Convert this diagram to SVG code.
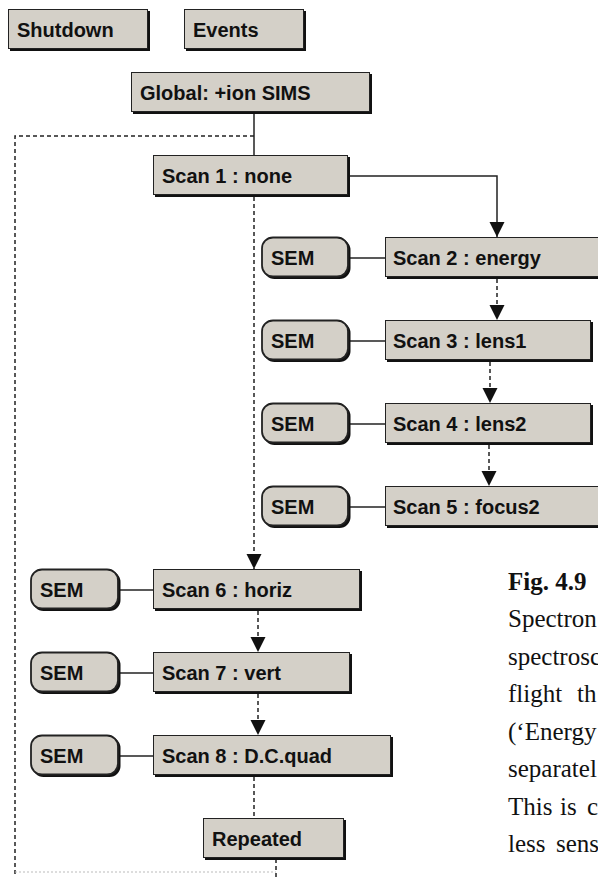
<svg xmlns="http://www.w3.org/2000/svg" width="598" height="877" viewBox="0 0 598 877">
<style>
.sh{fill:#111}
.bx{fill:#d4d0c8;stroke:#222;stroke-width:1}
.pl{fill:#d4d0c8;stroke:#222;stroke-width:1.8}
.t{font-family:"Liberation Sans",Arial,sans-serif;font-weight:bold;font-size:20px;fill:#111}
.cap{font-family:"Liberation Serif","Times New Roman",serif;font-size:25px;fill:#111}
.ln{fill:none;stroke:#222;stroke-width:1.5}
.ds{fill:none;stroke:#222;stroke-width:1.5;stroke-dasharray:4 3}
.lt{fill:none;stroke:#bbb;stroke-width:1.2;stroke-dasharray:2 2}
</style>
<defs>
<marker id="ah" markerUnits="userSpaceOnUse" markerWidth="16" markerHeight="16" viewBox="0 0 16 16" refX="15" refY="8" orient="auto">
<path d="M0,0.5 L15,8 L0,15.5 Z" fill="#111" stroke="none"/>
</marker>
</defs>
<rect width="598" height="877" fill="#fff"/>

<g id="connectors">
<path class="ln" d="M254,113 V155"/>
<path class="ds" d="M254,136 H15 V877"/>
<path class="lt" d="M15,872 H276"/>
<path class="ds" d="M276,859 V877"/>
<path class="ln" d="M350,176 H497 V237" marker-end="url(#ah)"/>
<path class="ds" d="M254,197 V569" marker-end="url(#ah)"/>
<path class="ds" d="M497,279 V320" marker-end="url(#ah)"/>
<path class="ds" d="M490,362 V403" marker-end="url(#ah)"/>
<path class="ds" d="M489,445 V486" marker-end="url(#ah)"/>
<path class="ds" d="M258,611 V652" marker-end="url(#ah)"/>
<path class="ds" d="M258,694 V735" marker-end="url(#ah)"/>
<path class="ds" d="M254,777 V818"/>
<path class="ln" d="M350,258 H385"/>
<path class="ln" d="M350,341 H385"/>
<path class="ln" d="M350,424 H385"/>
<path class="ln" d="M350,507 H385"/>
<path class="ln" d="M120,590 H153"/>
<path class="ln" d="M120,673 H153"/>
<path class="ln" d="M120,756 H153"/>
</g>

<g id="shutdown"><rect class="sh" x="10" y="11" width="140" height="40"/><rect class="bx" x="8.5" y="9.5" width="139" height="39"/><text class="t" x="17" y="37">Shutdown</text></g>
<g id="events"><rect class="sh" x="186" y="11" width="120" height="40"/><rect class="bx" x="184.5" y="9.5" width="119" height="39"/><text class="t" x="193" y="37">Events</text></g>
<g id="global"><rect class="sh" x="133" y="74" width="239" height="40"/><rect class="bx" x="131.5" y="72.5" width="238" height="39"/><text class="t" x="140" y="100">Global: +ion SIMS</text></g>
<g id="scan1"><rect class="sh" x="155" y="157" width="195" height="40"/><rect class="bx" x="153.5" y="155.5" width="194" height="39"/><text class="t" x="162" y="183">Scan 1 : none</text></g>

<g id="sem2"><rect class="sh" x="263.5" y="239" width="87" height="40" rx="11"/><rect class="pl" x="262" y="237.5" width="86" height="39" rx="11"/><text class="t" x="271" y="265">SEM</text></g>
<g id="scan2"><rect class="sh" x="387" y="239" width="220" height="40"/><rect class="bx" x="385.5" y="237.5" width="220" height="39"/><text class="t" x="393" y="265">Scan 2 : energy</text></g>
<g id="sem3"><rect class="sh" x="263.5" y="322" width="87" height="40" rx="11"/><rect class="pl" x="262" y="320.5" width="86" height="39" rx="11"/><text class="t" x="271" y="348">SEM</text></g>
<g id="scan3"><rect class="sh" x="387" y="322" width="206" height="40"/><rect class="bx" x="385.5" y="320.5" width="205" height="39"/><text class="t" x="393" y="348">Scan 3 : lens1</text></g>
<g id="sem4"><rect class="sh" x="263.5" y="405" width="87" height="40" rx="11"/><rect class="pl" x="262" y="403.5" width="86" height="39" rx="11"/><text class="t" x="271" y="431">SEM</text></g>
<g id="scan4"><rect class="sh" x="387" y="405" width="206" height="40"/><rect class="bx" x="385.5" y="403.5" width="205" height="39"/><text class="t" x="393" y="431">Scan 4 : lens2</text></g>
<g id="sem5"><rect class="sh" x="263.5" y="488" width="87" height="40" rx="11"/><rect class="pl" x="262" y="486.5" width="86" height="39" rx="11"/><text class="t" x="271" y="514">SEM</text></g>
<g id="scan5"><rect class="sh" x="387" y="488" width="220" height="40"/><rect class="bx" x="385.5" y="486.5" width="220" height="39"/><text class="t" x="393" y="514">Scan 5 : focus2</text></g>

<g id="sem6"><rect class="sh" x="32.5" y="571" width="88" height="40" rx="11"/><rect class="pl" x="31" y="569.5" width="87" height="39" rx="11"/><text class="t" x="40" y="597">SEM</text></g>
<g id="scan6"><rect class="sh" x="155" y="571" width="207" height="40"/><rect class="bx" x="153.5" y="569.5" width="206" height="39"/><text class="t" x="162" y="597">Scan 6 : horiz</text></g>
<g id="sem7"><rect class="sh" x="32.5" y="654" width="88" height="40" rx="11"/><rect class="pl" x="31" y="652.5" width="87" height="39" rx="11"/><text class="t" x="40" y="680">SEM</text></g>
<g id="scan7"><rect class="sh" x="155" y="654" width="197" height="40"/><rect class="bx" x="153.5" y="652.5" width="196" height="39"/><text class="t" x="162" y="680">Scan 7 : vert</text></g>
<g id="sem8"><rect class="sh" x="32.5" y="737" width="88" height="40" rx="11"/><rect class="pl" x="31" y="735.5" width="87" height="39" rx="11"/><text class="t" x="40" y="763">SEM</text></g>
<g id="scan8"><rect class="sh" x="155" y="737" width="238" height="40"/><rect class="bx" x="153.5" y="735.5" width="237" height="39"/><text class="t" x="162" y="763">Scan 8 : D.C.quad</text></g>
<g id="repeated"><rect class="sh" x="205" y="820" width="141" height="40"/><rect class="bx" x="203.5" y="818.5" width="140" height="39"/><text class="t" x="212" y="846">Repeated</text></g>

<g id="caption">
<text class="cap" x="508" y="590" font-weight="bold">Fig. 4.9</text>
<text class="cap" x="508" y="627">Spectron</text>
<text class="cap" x="508" y="665">spectrosc</text>
<text class="cap" x="508" y="702"><tspan>flight</tspan><tspan x="577">th</tspan></text>
<text class="cap" x="508" y="740">(‘Energy</text>
<text class="cap" x="508" y="777">separatel</text>
<text class="cap" x="508" y="815"><tspan>This</tspan><tspan x="560">is</tspan><tspan x="587">c</tspan></text>
<text class="cap" x="508" y="852"><tspan>less</tspan><tspan x="556">sens</tspan></text>
</g>
</svg>
